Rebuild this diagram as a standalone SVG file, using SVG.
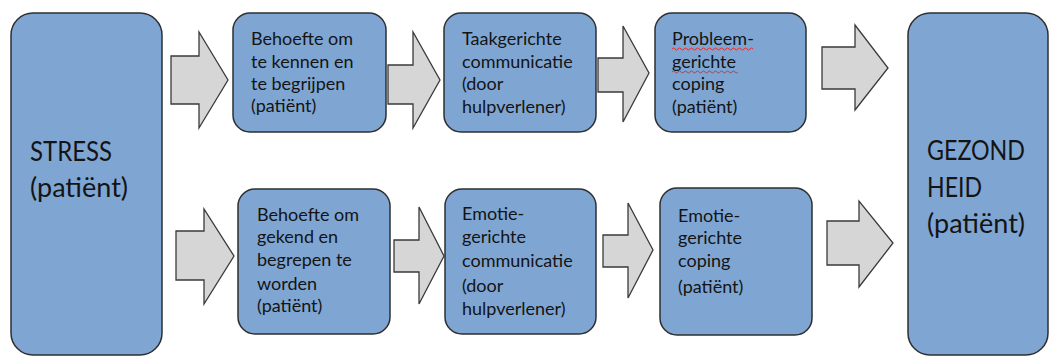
<svg xmlns="http://www.w3.org/2000/svg" width="1053" height="358" viewBox="0 0 1053 358">
<style>
.box{fill:#7fa6d3;stroke:#2f2f2f;stroke-width:1.5}
.arr{fill:#d6d6d6;stroke:#3a3a3a;stroke-width:1.3;stroke-linejoin:miter}
.t{font-family:Lato,"Open Sans","DejaVu Sans",sans-serif;fill:#141414}
.s{font-size:18px}
.b{font-size:27px}
.wave{fill:none;stroke:#e03030;stroke-width:1}
</style>
<rect width="1053" height="358" fill="#ffffff"/>
<g id="connectors">
<polygon class="arr" points="171,56 199,56 199,32 228,80 199,128 199,104 171,104"/>
<polygon class="arr" points="388,65 413,65 413,32 440,80 413,128 413,104 388,104"/>
<polygon class="arr" points="598,58 623,58 623,26 649,73 623,122 623,92 598,92"/>
<polygon class="arr" points="822,47 855,47 855,25 888,68 855,110 855,89 822,89"/>
<polygon class="arr" points="176,231 204,231 204,209 234,256 204,304 204,280 176,280"/>
<polygon class="arr" points="394,240 419,240 419,207 444,256 419,304 419,272 394,272"/>
<polygon class="arr" points="603,235 628,235 628,203 653,250 628,298 628,267 603,267"/>
<polygon class="arr" points="827,221 859,221 859,201 893,243 859,287 859,265 827,265"/>
</g>
<g id="stress">
<rect class="box" x="11" y="13" width="151" height="342" rx="22"/>
<text class="t b" x="30" y="161" textLength="82" lengthAdjust="spacingAndGlyphs">STRESS</text>
<text class="t b" x="30" y="197">(patiënt)</text>
</g>
<g id="gezondheid">
<rect class="box" x="908" y="13" width="140" height="342" rx="22"/>
<text class="t b" x="927" y="160" textLength="98" lengthAdjust="spacingAndGlyphs">GEZOND</text>
<text class="t b" x="927" y="197" textLength="55" lengthAdjust="spacingAndGlyphs">HEID</text>
<text class="t b" x="927" y="233">(patiënt)</text>
</g>
<g id="behoefte-kennen">
<rect class="box" x="233" y="13" width="153" height="119" rx="17"/>
<text class="t s" x="251" y="45">Behoefte om</text>
<text class="t s" x="251" y="68">te kennen en</text>
<text class="t s" x="251" y="90">te begrijpen</text>
<text class="t s" x="251" y="112">(patiënt)</text>
</g>
<g id="taakgerichte">
<rect class="box" x="444" y="13" width="152" height="119" rx="17"/>
<text class="t s" x="462" y="45">Taakgerichte</text>
<text class="t s" x="462" y="68">communicatie</text>
<text class="t s" x="462" y="90">(door</text>
<text class="t s" x="462" y="113">hulpverlener)</text>
</g>
<g id="probleemgerichte">
<rect class="box" x="655" y="13" width="151" height="119" rx="17"/>
<text class="t s" x="672" y="45">Probleem-</text>
<path class="wave" d="M672,49 q1.5,-2 3,0 t3,0 t3,0 t3,0 t3,0 t3,0 t3,0 t3,0 t3,0 t3,0 t3,0 t3,0 t3,0 t3,0 t3,0 t3,0 t3,0 t3,0 t3,0 t3,0 t3,0 t3,0 t3,0 t3,0 t3,0 t3,0 t3,0"/>
<text class="t s" x="672" y="68">gerichte</text>
<path class="wave" d="M672,72 q1.5,-2 3,0 t3,0 t3,0 t3,0 t3,0 t3,0 t3,0 t3,0 t3,0 t3,0 t3,0 t3,0 t3,0 t3,0 t3,0 t3,0 t3,0 t3,0 t3,0 t3,0 t3,0 t3,0"/>
<text class="t s" x="672" y="90">coping</text>
<text class="t s" x="672" y="113">(patiënt)</text>
</g>
<g id="behoefte-gekend">
<rect class="box" x="238" y="189" width="152" height="145" rx="17"/>
<text class="t s" x="257" y="221">Behoefte om</text>
<text class="t s" x="257" y="243">gekend en</text>
<text class="t s" x="257" y="266">begrepen te</text>
<text class="t s" x="257" y="290">worden</text>
<text class="t s" x="257" y="312">(patiënt)</text>
</g>
<g id="emotiegerichte-communicatie">
<rect class="box" x="445" y="189" width="151" height="145" rx="17"/>
<text class="t s" x="462" y="220">Emotie-</text>
<text class="t s" x="462" y="243">gerichte</text>
<text class="t s" x="462" y="267">communicatie</text>
<text class="t s" x="462" y="292">(door</text>
<text class="t s" x="462" y="315">hulpverlener)</text>
</g>
<g id="emotiegerichte-coping">
<rect class="box" x="660" y="188" width="152" height="147" rx="17"/>
<text class="t s" x="678" y="222">Emotie-</text>
<text class="t s" x="678" y="244">gerichte</text>
<text class="t s" x="678" y="267">coping</text>
<text class="t s" x="678" y="293">(patiënt)</text>
</g>
</svg>
